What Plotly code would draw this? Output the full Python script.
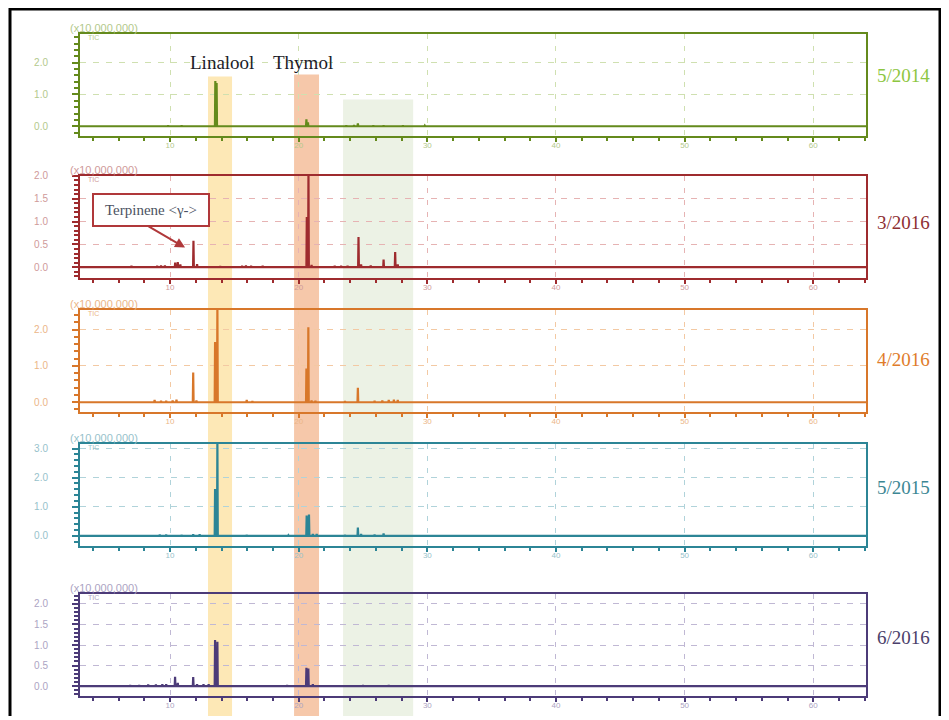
import plotly.graph_objects as go

# page offset of the plot inside the browser window (body margin etc.)
OX, OY = 8, 12
WIN_W, WIN_H = 949, 720
W, H = WIN_W - OX, WIN_H - OY

# ---------------- data ----------------
X_RANGE = [3.0, 64.1]
X_TICKS = [10, 20, 30, 40, 50, 60]
sample_labels = ["5/2014", "3/2016", "4/2016", "5/2015", "6/2016"]

# retention time (min) and intensity (x10,000,000) of visible peaks
p2014_t = [9.85, 10.9, 13.52, 13.62, 20.6, 20.72, 23.7, 24.3, 24.6, 25.8, 26.6, 28.1, 29.8]
p2014_h = [0.03, 0.03, 1.42, 1.36, 0.22, 0.12, 0.03, 0.04, 0.09, 0.03, 0.03, 0.03, 0.02]

p0316_t = [7.0, 9.0, 9.3, 9.6, 10.4, 10.6, 10.8, 11.82, 12.1, 13.9, 15.6, 15.9, 16.3, 17.2,
           20.63, 20.76, 21.0, 22.8, 23.3, 23.8, 24.65, 24.85, 25.6, 26.6, 27.5, 27.7]
p0316_h = [0.03, 0.03, 0.04, 0.04, 0.10, 0.11, 0.06, 0.58, 0.07, 0.02, 0.03, 0.04, 0.03, 0.03,
           1.10, 2.10, 0.05, 0.03, 0.03, 0.03, 0.66, 0.06, 0.04, 0.17, 0.33, 0.06]

p0416_t = [6.9, 8.8, 9.3, 9.7, 10.2, 10.5, 11.8, 12.05, 13.5, 13.68, 15.96, 16.4,
           20.6, 20.75, 21.0, 21.3, 23.6, 24.6, 25.9, 26.5, 27.0, 27.4, 27.7]
p0416_h = [0.02, 0.06, 0.04, 0.04, 0.05, 0.07, 0.82, 0.05, 1.66, 2.70, 0.06, 0.03,
           0.93, 2.07, 0.05, 0.04, 0.03, 0.40, 0.04, 0.05, 0.06, 0.07, 0.06]

p0515_t = [6.9, 8.6, 9.2, 9.7, 10.9, 11.8, 12.3, 13.5, 13.68, 15.96, 19.2,
           20.62, 20.8, 21.1, 21.4, 23.6, 24.6, 24.85, 25.9, 26.6]
p0515_h = [0.02, 0.02, 0.04, 0.04, 0.03, 0.05, 0.05, 1.61, 3.30, 0.03, 0.02,
           0.70, 0.73, 0.06, 0.06, 0.03, 0.28, 0.06, 0.04, 0.08]

p0616_t = [6.9, 7.6, 8.3, 8.9, 9.4, 9.7, 10.39, 10.6, 11.8, 12.1, 12.6, 13.0, 13.5, 13.68,
           15.9, 16.5, 17.5, 19.1, 20.6, 20.75, 21.1, 24.0, 25.0, 26.0, 27.0, 28.0, 29.0]
p0616_h = [0.03, 0.03, 0.04, 0.04, 0.05, 0.05, 0.23, 0.08, 0.22, 0.05, 0.05, 0.05, 1.12, 1.08,
           0.02, 0.02, 0.02, 0.03, 0.45, 0.43, 0.05, 0.02, 0.03, 0.02, 0.03, 0.02, 0.02]

peaks = [(p2014_t, p2014_h), (p0316_t, p0316_h), (p0416_t, p0416_h),
         (p0515_t, p0515_h), (p0616_t, p0616_h)]

y_ranges = [[-0.31, 2.906], [-0.239, 2.002], [-0.274, 2.548], [-0.358, 3.157], [-0.241, 2.241]]
y_dticks = [1.0, 0.5, 1.0, 1.0, 0.5]
y_minor = [0.2, 0.1, 0.2, 0.2, 0.1]

# highlighted retention windows
band_x0 = [12.95, 19.64, 23.45]
band_x1 = [14.82, 21.58, 28.9]

# ---------------- style ----------------
styles = [
    dict(line="#648a1c", grid="#cfe0b0", text="#8dc641", tick="#b3c98c"),
    dict(line="#9e2b2e", grid="#e6b3b3", text="#8e2f33", tick="#cf9a9a"),
    dict(line="#d8772a", grid="#f3c9a3", text="#e07c2a", tick="#ebb688"),
    dict(line="#2c8596", grid="#b0d3da", text="#3c8794", tick="#97c2cb"),
    dict(line="#4c3b78", grid="#c0b8d4", text="#4b3f6b", tick="#aca4c3"),
]
band_colors = ["#fde8b6", "#f6c8aa", "#ecf2e5"]
band_tops = [76, 74, 99]
tops = [33, 176, 311, 446, 597]
PH = 103
label_y = [75, 223, 361, 490, 641]


def px(xp):
    return (xp - OX) / W


def py(yp):
    return 1 - (yp - OY) / H


def spectrum(times, heights, w=0.03):
    xs, ys = [X_RANGE[0]], [0.0]
    for t, h in sorted(zip(times, heights)):
        xs += [t - w, t, t + w]
        ys += [0.0, h, 0.0]
    xs.append(X_RANGE[1])
    ys.append(0.0)
    return xs, ys


fig = go.Figure()
layout = dict(
    width=W, height=H, margin=dict(l=0, r=0, t=0, b=0),
    paper_bgcolor="white", plot_bgcolor="rgba(0,0,0,0)", showlegend=False,
    font=dict(family="Liberation Sans"),
)
annotations = []
shapes = []

for i, (lab, (ts, hs), st) in enumerate(zip(sample_labels, peaks, styles)):
    n = "" if i == 0 else str(i + 1)
    xn, yn = "x" + n, "y" + n
    xs, ys = spectrum(ts, hs)
    fig.add_trace(go.Scatter(x=xs, y=ys, mode="lines", xaxis=xn, yaxis=yn,
                             line=dict(color=st["line"], width=2.2), hoverinfo="skip"))
    top = tops[i]
    bot = top + PH
    layout["xaxis" + n] = dict(
        domain=[px(80), px(866)], range=X_RANGE, anchor=yn,
        tickmode="array", tickvals=X_TICKS, ticks="outside", ticklen=4, tickwidth=2,
        tickcolor=st["line"],
        minor=dict(tickmode="linear", tick0=0, dtick=2, ticks="outside", ticklen=3,
                   tickwidth=2, tickcolor=st["line"], showgrid=False),
        showgrid=True, gridcolor=st["grid"], griddash="5px,7px", gridwidth=1,
        showline=True, linecolor=st["line"], linewidth=2, mirror=True, zeroline=False,
        tickfont=dict(size=8, color=st["tick"]), ticklabelstandoff=-4, fixedrange=True,
    )
    layout["yaxis" + n] = dict(
        domain=[py(bot), py(top)], range=y_ranges[i], anchor=xn,
        tickmode="linear", tick0=0, dtick=y_dticks[i], tickformat=".1f",
        ticks="outside", ticklen=6, tickwidth=2, tickcolor=st["line"],
        minor=dict(tickmode="linear", tick0=0, dtick=y_minor[i], ticks="outside",
                   ticklen=4, tickwidth=2, tickcolor=st["line"], showgrid=False),
        showgrid=True, gridcolor=st["grid"], griddash="6px,7px", gridwidth=1,
        showline=True, linecolor=st["line"], linewidth=2, mirror=True, zeroline=False,
        tickfont=dict(size=10, color=st["tick"]), ticklabelstandoff=22, fixedrange=True,
    )
    annotations.append(dict(text=lab, xref="paper", yref="paper", x=px(875), y=py(label_y[i]),
                            xanchor="left", yanchor="middle", showarrow=False,
                            font=dict(family="Liberation Serif", size=19, color=st["text"])))
    annotations.append(dict(text="(x10,000,000)", xref="paper", yref="paper", x=px(68),
                            y=py(top - 6), xanchor="left", yanchor="middle", showarrow=False,
                            font=dict(size=11, color=st["tick"])))
    annotations.append(dict(text="TIC", xref="paper", yref="paper", x=px(86),
                            y=py(top + 4), xanchor="left", yanchor="middle", showarrow=False,
                            font=dict(size=7, color=st["tick"])))

for x0, x1, c, tp in zip(band_x0, band_x1, band_colors, band_tops):
    shapes.append(dict(type="rect", xref="x", yref="paper", x0=x0, x1=x1, y0=-0.05,
                       y1=py(tp), fillcolor=c, line=dict(width=0), layer="below"))

# outer frame
shapes.append(dict(type="rect", xref="paper", yref="paper", x0=px(10), x1=px(940),
                   y0=-0.05, y1=py(8), line=dict(color="black", width=3),
                   fillcolor="rgba(0,0,0,0)", layer="above"))

annotations.append(dict(text="Linalool", xref="paper", yref="paper", x=px(222), y=py(62),
                        showarrow=False, xanchor="center", yanchor="middle",
                        font=dict(family="Liberation Serif", size=19, color="#1c1c28")))
annotations.append(dict(text="Thymol", xref="paper", yref="paper", x=px(303), y=py(62),
                        showarrow=False, xanchor="center", yanchor="middle",
                        font=dict(family="Liberation Serif", size=19, color="#1c1c28")))
# Terpinene box
annotations.append(dict(text="Terpinene &lt;γ-&gt;", xref="paper", yref="paper",
                        x=px(150.5), y=py(210.5), showarrow=False,
                        xanchor="center", yanchor="middle", width=112, height=28,
                        bordercolor="#b0383a", borderwidth=2, bgcolor="white",
                        font=dict(family="Liberation Serif", size=15, color="#4c5262")))
annotations.append(dict(text="", xref="x2", yref="y2", x=11.17, y=0.43,
                        ax=-38, ay=-22, showarrow=True, arrowhead=2, arrowsize=1,
                        arrowwidth=2, arrowcolor="#b0383a", standoff=0))

layout["annotations"] = annotations
layout["shapes"] = shapes
fig.update_layout(**layout)
fig.write_html("out.html", post_script="document.body.style.overflow='hidden';")
